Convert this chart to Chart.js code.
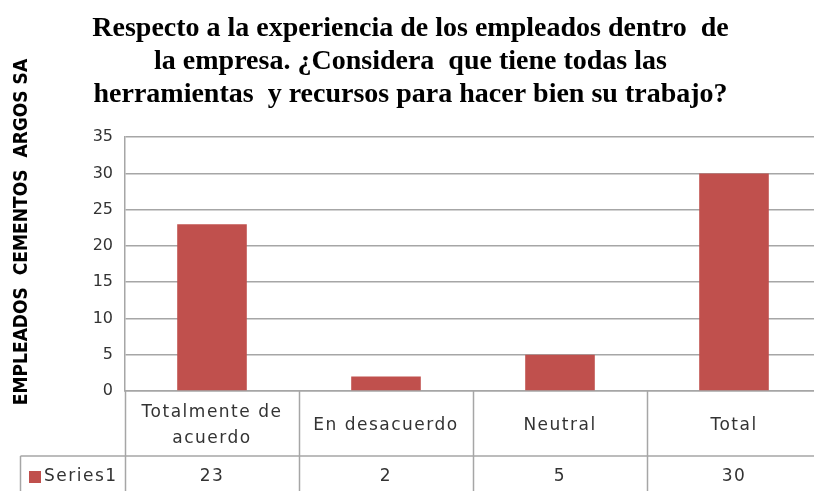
<!DOCTYPE html>
<html>
<head>
<meta charset="utf-8">
<script src="https://cdn.jsdelivr.net/npm/chart.js@4.4.1/dist/chart.umd.min.js"></script>
<style>
  html, body { margin: 0; padding: 0; background: #fff; overflow: hidden; }
  #wrap { width: 830px; height: 491px; }
</style>
</head>
<body>
<div id="wrap"><canvas id="chart" width="830" height="491"></canvas></div>
<script>
// Chart data
const categories = [['Totalmente de', 'acuerdo'], ['En desacuerdo'], ['Neutral'], ['Total']];
const seriesName = 'Series1';
const seriesValues = [23, 2, 5, 30];
const yTicks = [0, 5, 10, 15, 20, 25, 30, 35];

const titleLines = [
    'Respecto a la experiencia de los empleados dentro  de',
    'la empresa. ¿Considera  que tiene todas las',
    'herramientas  y recursos para hacer bien su trabajo?'
];
const yTitle = 'EMPLEADOS  CEMENTOS  ARGOS SA';

const barColor = '#C0504D';
const lineColor = '#A6A6A6';
const textColor = '#333333';

// Draws the y title and the data table under the plot
const dataTablePlugin = {
    id: 'dataTable',
    afterDraw(chart) {
        const ctx = chart.ctx;
        const xs = chart.scales.x;
        const area = chart.chartArea;
        const colW = xs.width / categories.length;
        const headTop = area.bottom;
        const headBottom = headTop + 65;
        const bottom = chart.height;
        const rowMid = headBottom + 21;

        ctx.save();

        // y axis title
        ctx.save();
        ctx.translate(22, 232);
        ctx.rotate(-Math.PI / 2);
        ctx.font = 'bold 19px "DejaVu Sans Condensed", "DejaVu Sans", sans-serif';
        ctx.fillStyle = '#000';
        ctx.textAlign = 'center';
        ctx.textBaseline = 'middle';
        ctx.fillText(yTitle, 0, 0);
        ctx.restore();

        // table lines
        ctx.strokeStyle = lineColor;
        ctx.lineWidth = 1.5;
        ctx.beginPath();
        for (let i = 0; i <= categories.length; i++) {
            const x = Math.round(xs.left + i * colW) + 0.5;
            ctx.moveTo(x, headTop);
            ctx.lineTo(x, bottom);
        }
        ctx.moveTo(20.5, headBottom);
        ctx.lineTo(xs.right, headBottom);
        ctx.moveTo(20.5, headBottom);
        ctx.lineTo(20.5, bottom);
        ctx.stroke();

        // header labels and values
        ctx.fillStyle = textColor;
        ctx.font = '17px "DejaVu Sans", Verdana, sans-serif';
        ctx.letterSpacing = '1.5px';
        ctx.textAlign = 'center';
        ctx.textBaseline = 'middle';
        categories.forEach((lines, i) => {
            const cx = xs.getPixelForValue(i);
            const mid = (headTop + headBottom) / 2 + 2;
            const lh = 26;
            lines.forEach((t, j) => {
                ctx.fillText(t, cx, mid + (j - (lines.length - 1) / 2) * lh);
            });
            ctx.fillText(String(seriesValues[i]), cx, rowMid);
        });

        // legend key
        ctx.fillStyle = barColor;
        ctx.fillRect(29, rowMid - 6, 12, 12);
        ctx.fillStyle = textColor;
        ctx.textAlign = 'left';
        ctx.fillText(seriesName, 44, rowMid);

        ctx.restore();
    }
};

new Chart(document.getElementById('chart'), {
    type: 'bar',
    data: {
        labels: categories.map(c => c.join(' ')),
        datasets: [{
            label: seriesName,
            data: seriesValues,
            backgroundColor: barColor,
            borderWidth: 0,
            barPercentage: 0.4,
            categoryPercentage: 1.0
        }]
    },
    options: {
        responsive: false,
        animation: false,
        layout: { padding: { top: 0, right: 9, bottom: 0, left: 0 } },
        plugins: {
            legend: { display: false },
            tooltip: { enabled: false },
            title: {
                display: true,
                text: titleLines,
                color: '#000',
                font: { family: '"Liberation Serif", "Times New Roman", serif', size: 28, weight: 'bold', lineHeight: 1.18 },
                padding: { top: 12, bottom: 26 }
            }
        },
        scales: {
            x: {
                ticks: { display: false },
                grid: { display: false },
                border: { display: true, color: lineColor, width: 1.5 },
                afterFit(scale) { scale.height = 100; }
            },
            y: {
                min: 0,
                max: 35,
                afterBuildTicks(scale) { scale.ticks = yTicks.map(v => ({ value: v })); },
                ticks: {
                    color: textColor,
                    font: { family: '"DejaVu Sans", Verdana, sans-serif', size: 16 },
                    padding: 12
                },
                grid: { color: lineColor, lineWidth: 1.5, drawTicks: false },
                border: { display: true, color: lineColor, width: 1.5 },
                afterFit(scale) { scale.width = 125; }
            }
        }
    },
    plugins: [dataTablePlugin]
});
</script>
</body>
</html>
